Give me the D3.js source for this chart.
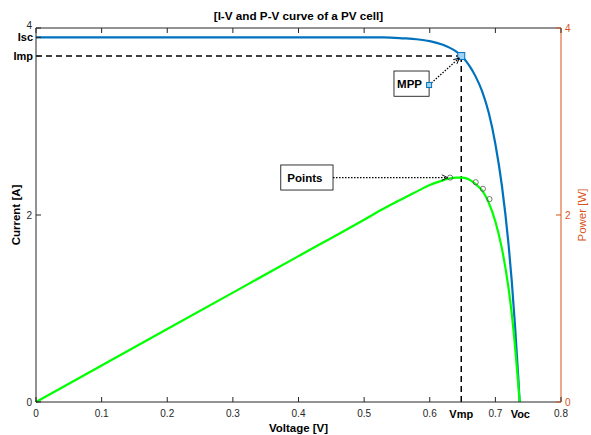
<!DOCTYPE html>
<html>
<head>
<meta charset="utf-8">
<script src="https://cdn.jsdelivr.net/npm/d3@7"></script>
<style>
  body { margin: 0; background: #fff; }
  text { font-family: "Liberation Sans", Arial, sans-serif; }
</style>
</head>
<body>
<script>
// values
const voltage = [0, 0.1, 0.2, 0.3, 0.4, 0.5, 0.53, 0.56, 0.58, 0.6, 0.62, 0.63, 0.64, 0.65, 0.66, 0.67, 0.68, 0.69, 0.7, 0.71, 0.72, 0.725, 0.73, 0.735, 0.737];
const current = [3.9, 3.9, 3.9, 3.9, 3.9, 3.9, 3.9, 3.89, 3.88, 3.86, 3.82, 3.79, 3.75, 3.69, 3.6, 3.48, 3.32, 3.09, 2.76, 2.31, 1.69, 1.29, 0.81, 0.25, 0];
const power = [0, 0.39, 0.78, 1.17, 1.56, 1.95, 2.07, 2.18, 2.25, 2.32, 2.37, 2.39, 2.4, 2.4, 2.38, 2.33, 2.26, 2.13, 1.93, 1.64, 1.22, 0.94, 0.59, 0.18, 0];
const pointsV = [0.631, 0.670, 0.681, 0.691];
const pointsP = [2.40, 2.35, 2.28, 2.17];
const vmp = 0.648, imp = 3.70, isc = 3.90, voc = 0.738;
const xTicks = [0, 0.1, 0.2, 0.3, 0.4, 0.5, 0.6, 0.7, 0.8];
const yTicks = [0, 2, 4];

const W = 591, H = 435;
const m = {left: 36, right: 30, top: 28, bottom: 33};
const blue = '#0072BD', orange = '#D95319', green = '#00FF00', axisCol = '#262626';

const svg = d3.select('body').append('svg')
    .attr('width', W)
    .attr('height', H);
svg.append('rect').attr('width', W).attr('height', H).attr('fill', '#fff');

const x = d3.scaleLinear().domain([0, 0.8]).range([m.left, W - m.right]);
const yL = d3.scaleLinear().domain([0, 4]).range([H - m.bottom, m.top]);
const yR = d3.scaleLinear().domain([0, 4]).range([H - m.bottom, m.top]);

svg.append('defs').append('marker')
    .attr('id', 'arr')
    .attr('viewBox', '0 0 10 10')
    .attr('refX', 9).attr('refY', 5)
    .attr('markerWidth', 7).attr('markerHeight', 7)
    .attr('markerUnits', 'userSpaceOnUse')
    .attr('orient', 'auto')
  .append('path')
    .attr('d', 'M1,1 L9,5 L1,9')
    .attr('fill', 'none')
    .attr('stroke', '#000')
    .attr('stroke-width', 1.3);

// dashed guides to the MPP
svg.append('line')
    .attr('x1', x(0)).attr('x2', x(vmp))
    .attr('y1', yL(imp)).attr('y2', yL(imp))
    .attr('stroke', '#000').attr('stroke-width', 1.5).attr('stroke-dasharray', '6,4');
svg.append('line')
    .attr('x1', x(vmp)).attr('x2', x(vmp))
    .attr('y1', yL(imp)).attr('y2', yL(0))
    .attr('stroke', '#000').attr('stroke-width', 1.5).attr('stroke-dasharray', '6,4');

// curves
const ivLine = d3.line()
    .x((d, i) => x(voltage[i]))
    .y(d => yL(d))
    .curve(d3.curveMonotoneX);
const pvLine = d3.line()
    .x((d, i) => x(voltage[i]))
    .y(d => yR(d))
    .curve(d3.curveMonotoneX);

svg.append('path')
    .datum(current)
    .attr('d', ivLine)
    .attr('fill', 'none')
    .attr('stroke', blue)
    .attr('stroke-width', 2.2);
svg.append('path')
    .datum(power)
    .attr('d', pvLine)
    .attr('fill', 'none')
    .attr('stroke', green)
    .attr('stroke-width', 2.2);

svg.selectAll('circle.pt')
    .data(pointsV)
    .enter()
    .append('circle')
    .attr('class', 'pt')
    .attr('cx', d => x(d))
    .attr('cy', (d, i) => yR(pointsP[i]))
    .attr('r', 2.6)
    .attr('fill', 'none')
    .attr('stroke', '#555')
    .attr('stroke-width', 0.8);

// MPP marker
svg.append('rect')
    .attr('x', x(vmp) - 3.5).attr('y', yL(imp) - 3.5)
    .attr('width', 7).attr('height', 7)
    .attr('fill', '#9fd3f5').attr('stroke', blue).attr('stroke-width', 1);

// axes box
const g = svg.append('g');
g.append('line').attr('x1', x(0)).attr('x2', x(0.8)).attr('y1', yL(0)).attr('y2', yL(0)).attr('stroke', axisCol);
g.append('line').attr('x1', x(0)).attr('x2', x(0.8)).attr('y1', yL(4)).attr('y2', yL(4)).attr('stroke', axisCol);
g.append('line').attr('x1', x(0)).attr('x2', x(0)).attr('y1', yL(0)).attr('y2', yL(4)).attr('stroke', axisCol);
g.append('line').attr('x1', x(0.8)).attr('x2', x(0.8)).attr('y1', yR(0)).attr('y2', yR(4)).attr('stroke', orange);

// x ticks (bottom and top, inward)
xTicks.forEach(t => {
  g.append('line').attr('x1', x(t)).attr('x2', x(t)).attr('y1', yL(0)).attr('y2', yL(0) - 5).attr('stroke', axisCol);
  g.append('line').attr('x1', x(t)).attr('x2', x(t)).attr('y1', yL(4)).attr('y2', yL(4) + 5).attr('stroke', axisCol);
  g.append('text').attr('x', x(t)).attr('y', yL(0) + 15)
    .attr('text-anchor', 'middle').attr('font-size', 10).attr('fill', axisCol)
    .text(t);
});
[['Vmp', vmp], ['Voc', voc]].forEach(([lab, v]) => {
  g.append('text').attr('x', x(v)).attr('y', yL(0) + 16)
    .attr('text-anchor', 'middle').attr('font-size', 11).attr('font-weight', 'bold').attr('fill', '#000')
    .text(lab);
});

// left ticks
yTicks.forEach(t => {
  g.append('line').attr('x1', x(0)).attr('x2', x(0) + 5).attr('y1', yL(t)).attr('y2', yL(t)).attr('stroke', axisCol);
  g.append('text').attr('x', x(0) - 4).attr('y', yL(t) + (t === 4 ? 1 : 4))
    .attr('text-anchor', 'end').attr('font-size', 10).attr('fill', axisCol)
    .text(t);
});
[['Isc', isc], ['Imp', imp]].forEach(([lab, v]) => {
  g.append('line').attr('x1', x(0)).attr('x2', x(0) + 5).attr('y1', yL(v)).attr('y2', yL(v)).attr('stroke', axisCol);
  g.append('text').attr('x', x(0) - 3).attr('y', yL(v) + 4)
    .attr('text-anchor', 'end').attr('font-size', 11).attr('font-weight', 'bold').attr('fill', '#000')
    .text(lab);
});

// right ticks
yTicks.forEach(t => {
  g.append('line').attr('x1', x(0.8)).attr('x2', x(0.8) - 5).attr('y1', yR(t)).attr('y2', yR(t)).attr('stroke', orange);
  g.append('text').attr('x', x(0.8) + 4).attr('y', yR(t) + 4)
    .attr('font-size', 10).attr('fill', orange)
    .text(t);
});

// labels
svg.append('text').attr('x', (x(0) + x(0.8)) / 2).attr('y', 20)
  .attr('text-anchor', 'middle').attr('font-size', 11.7).attr('font-weight', 'bold').attr('fill', '#000')
  .text('[I-V and P-V curve of a PV cell]');
svg.append('text').attr('x', (x(0) + x(0.8)) / 2).attr('y', 432)
  .attr('text-anchor', 'middle').attr('font-size', 11.5).attr('font-weight', 'bold').attr('fill', '#000')
  .text('Voltage [V]');
svg.append('text').attr('transform', `translate(20,${yL(2)}) rotate(-90)`)
  .attr('text-anchor', 'middle').attr('font-size', 11.5).attr('font-weight', 'bold').attr('fill', '#000')
  .text('Current [A]');
svg.append('text').attr('transform', `translate(586,${yR(2)}) rotate(-90)`)
  .attr('text-anchor', 'middle').attr('font-size', 11.5).attr('fill', orange)
  .text('Power [W]');

// MPP annotation
const mppBox = {x0: x(0.5455), y0: yL(3.54), x1: x(0.599), y1: yL(3.27)};
svg.append('line')
    .attr('x1', mppBox.x1).attr('y1', yL(3.39))
    .attr('x2', x(vmp) - 2).attr('y2', yL(imp) + 2)
    .attr('stroke', '#000').attr('stroke-width', 1.2).attr('stroke-dasharray', '1.5,1.5')
    .attr('marker-end', 'url(#arr)');
svg.append('rect')
    .attr('x', mppBox.x0).attr('y', mppBox.y0)
    .attr('width', mppBox.x1 - mppBox.x0).attr('height', mppBox.y1 - mppBox.y0)
    .attr('fill', '#fff').attr('stroke', '#000').attr('stroke-width', 0.8);
svg.append('text').attr('x', (mppBox.x0 + mppBox.x1) / 2 - 2).attr('y', (mppBox.y0 + mppBox.y1) / 2 + 4)
  .attr('text-anchor', 'middle').attr('font-size', 11.5).attr('font-weight', 'bold').text('MPP');
svg.append('rect')
    .attr('x', mppBox.x1 - 2.5).attr('y', yL(3.39) - 2.5)
    .attr('width', 5).attr('height', 5)
    .attr('fill', '#9fd3f5').attr('stroke', blue).attr('stroke-width', 1);

// Points annotation
const ptBox = {x0: x(0.373), y0: yR(2.535), x1: x(0.4526), y1: yR(2.267)};
svg.append('line')
    .attr('x1', ptBox.x1).attr('y1', yR(2.40))
    .attr('x2', x(0.627)).attr('y2', yR(2.40))
    .attr('stroke', '#000').attr('stroke-width', 1.2).attr('stroke-dasharray', '1.5,1.5')
    .attr('marker-end', 'url(#arr)');
svg.append('rect')
    .attr('x', ptBox.x0).attr('y', ptBox.y0)
    .attr('width', ptBox.x1 - ptBox.x0).attr('height', ptBox.y1 - ptBox.y0)
    .attr('fill', '#fff').attr('stroke', '#000').attr('stroke-width', 0.8);
svg.append('text').attr('x', (ptBox.x0 + ptBox.x1) / 2 - 2).attr('y', (ptBox.y0 + ptBox.y1) / 2 + 4)
  .attr('text-anchor', 'middle').attr('font-size', 11.5).attr('font-weight', 'bold').text('Points');
</script>
</body>
</html>
